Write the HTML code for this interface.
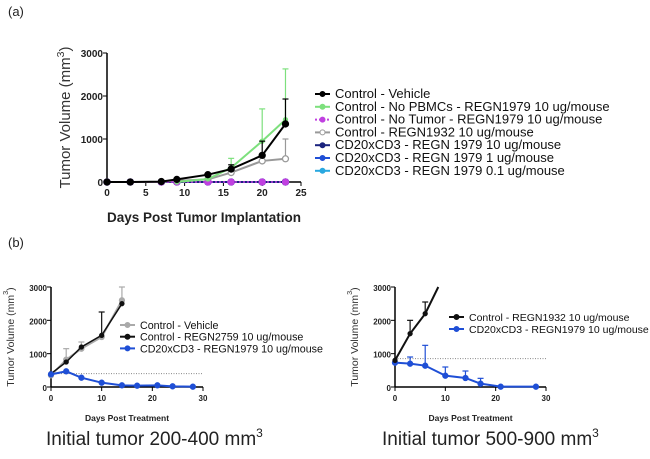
<!DOCTYPE html>
<html><head><meta charset="utf-8"><style>
body{margin:0;background:#fff;width:650px;height:454px;overflow:hidden;font-family:"Liberation Sans",sans-serif}
svg text{font-family:"Liberation Sans",sans-serif}
</style></head><body>
<svg id="s" width="650" height="454">
<text x="8" y="16" font-size="13" fill="#222">(a)</text>
<text x="8" y="247" font-size="13" fill="#222">(b)</text>
<text x="46" y="445" font-size="19" fill="#222">Initial tumor 200-400 mm<tspan dy="-8" font-size="12">3</tspan></text>
<text x="382" y="445" font-size="19" fill="#222">Initial tumor 500-900 mm<tspan dy="-8" font-size="12">3</tspan></text>
</svg>
<script>
const NS="http://www.w3.org/2000/svg";const svg=document.getElementById('s');
function mk(t,a,p){const e=document.createElementNS(NS,t);for(const k in a)e.setAttribute(k,a[k]);(p||svg).appendChild(e);return e;}
// ---- Panel A data
const aDays=[0,3,7,9,13,16,20,23];
const aVehicle=[0,0,10,60,170,300,620,1350];
const aVehicleErr=[0,0,0,0,0,400,950,1930];
const aNoPBMC=[null,null,null,0,70,330,950,1450];
const aNoPBMCErr=[null,null,null,0,0,550,1700,2630];
const aNoTumor=[0,0,0,0,0,0,0,0];
const aREGN1932=[0,0,0,30,60,220,490,540];
const aREGN1932Err=[0,0,0,0,0,0,0,1000];
const aZero=[0,0,0,0,0,0,0,0];
const aXTicks=[0,5,10,15,20,25];const aYTicks=[0,1000,2000,3000];
// ---- Panel B left
const blDaysC=[0,3,6,10,14];
const blVehicle=[350,820,1150,1500,2600];
const blVehicleErr=[0,1150,1350,0,3000];
const bl2759=[400,750,1200,1550,2500];
const bl2759Err=[0,0,0,2250,0];
const blDaysT=[0,3,6,10,14,17,21,24,28];
const blTreat=[380,470,280,130,50,40,50,20,10];
const blThreshold=[400];
// ---- Panel B right
const brDaysC=[0,3,6];
const brControl=[800,1600,2200];
const brControlErr=[0,2000,2550];
const brDaysT=[0,3,6,10,14,17,21,28];
const brTreat=[730,700,640,340,270,100,10,10];
const brTreatErr=[0,900,1250,600,480,260,0,0];
const brThreshold=[850];
const bXTicks=[0,10,20,30];const bYTicks=[0,1000,2000,3000];

function axes(g,o){
  const X=v=>o.x0+(v-o.xmin)/(o.xmax-o.xmin)*(o.x1-o.x0);
  const Y=v=>o.y0-(v/o.ymax)*(o.y0-o.y1);
  let e=mk('line',{x1:o.x0,y1:o.y0,x2:o.x1,y2:o.y0,stroke:'#000','stroke-width':1.5});
  
  e=mk('line',{x1:o.x0,y1:o.y0,x2:o.x0,y2:o.y1,stroke:'#000','stroke-width':1.5});
  
  o.xt.forEach(t=>{mk('line',{x1:X(t),x2:X(t),y1:o.y0,y2:o.y0+4,stroke:'#000'});
    e=mk('text',{x:X(t),y:o.y0+14,'font-size':o.fs,'font-weight':'bold','text-anchor':'middle',fill:'#222'});e.textContent=t;
    });
  o.yt.forEach(t=>{mk('line',{x1:o.x0-4,x2:o.x0,y1:Y(t),y2:Y(t),stroke:'#000'});
    e=mk('text',{x:o.x0-4,y:Y(t)+4,'font-size':o.fs,'font-weight':'bold','text-anchor':'end',fill:'#222'});e.textContent=t;
    });
  e=mk('text',{x:(o.x0+o.x1)/2,y:o.xty,'font-size':o.tfs,'font-weight':'bold','text-anchor':'middle',fill:'#222'});e.textContent=o.xtitle;
  
  const cy=(o.y0+o.y1)/2;
  e=mk('text',{x:o.ytx,y:cy,'font-size':o.yfs,'text-anchor':'middle',fill:'#333',transform:`rotate(-90 ${o.ytx} ${cy})`});
  e.innerHTML='Tumor Volume (mm<tspan dy="-6" font-size="'+(o.yfs*0.7)+'">3</tspan><tspan dy="6">)</tspan>';
  
  return {X,Y};
}
function series(ax,xs,ys,errs,c,name,opt){
  opt=opt||{};const pts=[];
  xs.forEach((x,i)=>{if(ys[i]!=null)pts.push([ax.X(x),ax.Y(ys[i]),i]);});
  if(errs)pts.forEach(p=>{const ev=errs[p[2]];if(ev&&ev>ys[p[2]]){const ey=ax.Y(ev);
    mk('line',{x1:p[0],x2:p[0],y1:p[1],y2:ey,stroke:c,'stroke-width':1.2});
    mk('line',{x1:p[0]-3,x2:p[0]+3,y1:ey,y2:ey,stroke:c,'stroke-width':1.2});}});
  const l=mk('polyline',{points:pts.map(p=>p[0]+','+p[1]).join(' '),fill:'none',stroke:c,'stroke-width':opt.w||2,'stroke-dasharray':opt.dash||''});
  
  pts.forEach(p=>{if(opt.nomark&&opt.nomark.includes(p[2]))return;
    const m=mk('circle',{cx:p[0],cy:p[1],r:opt.r||3,fill:opt.open?'#fff':c,stroke:c,'stroke-width':1.3});
    });
}
function legend(items,x,y0,dy,fs){
  items.forEach((it,i)=>{const y=y0+i*dy;
    const l=mk('line',{x1:x,x2:x+15,y1:y,y2:y,stroke:it[1],'stroke-width':2,'stroke-dasharray':it[2]?'2,2':''});
    
    const m=mk('circle',{cx:x+7.5,cy:y,r:2.5,fill:it[3]?'#fff':it[1],stroke:it[1]});
    const t=mk('text',{x:x+20,y:y+4,'font-size':fs,fill:'#111'});t.textContent=it[0];
    });
}
// Panel A
const A=axes(svg,{id:'a',x0:107,x1:301,xmin:0,xmax:25,y0:182,y1:53,ymax:3000,xt:aXTicks,yt:aYTicks,fs:10,tfs:13.5,xtitle:'Days Post Tumor Implantation',xty:222,ytx:70,yfs:15});
series(A,aDays,aZero,null,'#29a8e0','a-01');
series(A,aDays,aZero,null,'#1f4fd6','a-1');
series(A,aDays,aZero,null,'#1a237e','a-10');
series(A,aDays,aREGN1932,aREGN1932Err,'#999','a-regn1932',{open:true});
series(A,aDays,aNoTumor,null,'#c040e0','a-no-tumor',{dash:'2,2',w:1.5});
series(A,aDays,aNoPBMC,aNoPBMCErr,'#7de07d','a-no-pbmc',{r:2});
series(A,aDays,aVehicle,aVehicleErr,'#000','a-vehicle');
legend([['Control - Vehicle','#000'],['Control - No PBMCs - REGN1979 10 ug/mouse','#7de07d'],['Control - No Tumor - REGN1979 10 ug/mouse','#c040e0',1],['Control - REGN1932 10 ug/mouse','#999',0,1],['CD20xCD3 - REGN 1979 10 ug/mouse','#1a237e'],['CD20xCD3 - REGN 1979 1 ug/mouse','#1f4fd6'],['CD20xCD3 - REGN 1979 0.1 ug/mouse','#29a8e0']],315,94,12.8,13);
// Panel B left
const L=axes(svg,{id:'bl',x0:51,x1:203,xmin:0,xmax:30,y0:387,y1:287,ymax:3000,xt:bXTicks,yt:bYTicks,fs:8,tfs:8.5,xtitle:'Days Post Treatment',xty:421,ytx:14,yfs:10.5});
let d=mk('line',{x1:L.X(0),x2:L.X(30),y1:L.Y(blThreshold[0]),y2:L.Y(blThreshold[0]),stroke:'#888','stroke-dasharray':'1,1.5'});

series(L,blDaysC,blVehicle,blVehicleErr,'#aaa','bl-vehicle',{r:2.5});
series(L,blDaysC,bl2759,bl2759Err,'#111','bl-regn2759',{r:2,w:1.5});
series(L,blDaysT,blTreat,null,'#1f4fd6','bl-treat',{r:2.5});
legend([['Control - Vehicle','#aaa'],['Control - REGN2759 10 ug/mouse','#111'],['CD20xCD3 - REGN1979 10 ug/mouse','#1f4fd6']],120,325,11.7,10.7);
// Panel B right
const R=axes(svg,{id:'br',x0:395,x1:546,xmin:0,xmax:30,y0:387,y1:287,ymax:3000,xt:bXTicks,yt:bYTicks,fs:8,tfs:8.5,xtitle:'Days Post Treatment',xty:421,ytx:358,yfs:10.5});
d=mk('line',{x1:R.X(0),x2:R.X(30),y1:R.Y(brThreshold[0]),y2:R.Y(brThreshold[0]),stroke:'#888','stroke-dasharray':'1,1.5'});

series(R,brDaysT,brTreat,brTreatErr,'#1f4fd6','br-treat',{r:2.5});
series(R,brDaysC.concat([8.6]),brControl.concat([3000]),brControlErr.concat([0]),'#111','br-control',{r:2,nomark:[3]});
legend([['Control - REGN1932 10 ug/mouse','#111'],['CD20xCD3 - REGN1979 10 ug/mouse','#1f4fd6']],449,317,12,10.5);
</script>
</body></html>
